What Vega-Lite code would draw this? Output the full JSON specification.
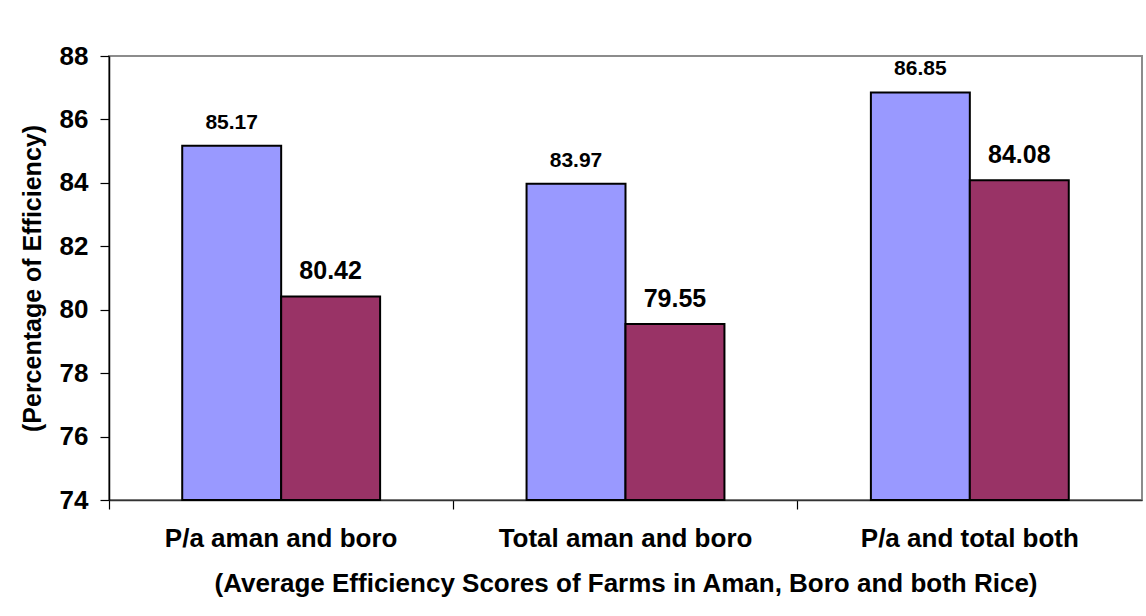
{
  "$schema": "https://vega.github.io/schema/vega-lite/v6.json",
  "autosize": {"type": "none"},
  "width": 1033,
  "height": 444,
  "padding": {"left": 109, "top": 56, "right": 4, "bottom": 116},
  "background": "white",
  "config": {
    "font": "Liberation Sans",
    "view": {"stroke": "#8c8c8c", "strokeWidth": 2},
    "axis": {"grid": false, "domainColor": "#000000", "domainWidth": 1.5, "tickColor": "#000000", "tickWidth": 1.2, "tickSize": 9,
      "labelFont": "Liberation Sans", "labelFontWeight": "bold", "labelColor": "#000000", "labelLimit": 0,
      "titleFont": "Liberation Sans", "titleFontWeight": "bold", "titleColor": "#000000"}
  },
  "data": {"values": [
    {"category": "P/a aman and boro", "series": "Series 1", "value": 85.17},
    {"category": "P/a aman and boro", "series": "Series 2", "value": 80.42},
    {"category": "Total aman and boro", "series": "Series 1", "value": 83.97},
    {"category": "Total aman and boro", "series": "Series 2", "value": 79.55},
    {"category": "P/a and total both", "series": "Series 1", "value": 86.85},
    {"category": "P/a and total both", "series": "Series 2", "value": 84.08}
  ]},
  "encoding": {
    "x": {"field": "category", "type": "nominal", "sort": null,
      "scale": {"paddingInner": 0, "paddingOuter": 0},
      "axis": {"title": "(Average Efficiency Scores of Farms in Aman, Boro and both Rice)", "labelAngle": 0, "bandPosition": 0,
        "labelFontSize": 26, "labelPadding": 16, "titleFontSize": 26, "titlePadding": 19, "domainColor": "#333333"}},
    "xOffset": {"field": "series", "type": "nominal", "scale": {"paddingInner": 0, "paddingOuter": 0.74}},
    "y": {"field": "value", "type": "quantitative",
      "scale": {"domain": [74, 88], "nice": false, "zero": false},
      "axis": {"title": "(Percentage of Efficiency)", "values": [74, 76, 78, 80, 82, 84, 86, 88],
        "labelFontSize": 26, "labelPadding": 12, "titleFontSize": 25, "titlePadding": 14}}
  },
  "layer": [
    {
      "mark": {"type": "bar", "stroke": "#000000", "strokeWidth": 2},
      "encoding": {
        "y2": {"datum": 74},
        "color": {"field": "series", "type": "nominal", "scale": {"domain": ["Series 1", "Series 2"], "range": ["#9999ff", "#993366"]}, "legend": null}
      }
    },
    {
      "transform": [{"filter": "datum.series === 'Series 1'"}],
      "mark": {"type": "text", "baseline": "alphabetic", "dy": -17, "fontSize": 21, "fontWeight": "bold", "color": "#000000", "font": "Liberation Sans"},
      "encoding": {"text": {"field": "value", "type": "quantitative", "format": ".2f"}}
    },
    {
      "transform": [{"filter": "datum.series === 'Series 2'"}],
      "mark": {"type": "text", "baseline": "alphabetic", "dy": -17, "fontSize": 25, "fontWeight": "bold", "color": "#000000", "font": "Liberation Sans"},
      "encoding": {"text": {"field": "value", "type": "quantitative", "format": ".2f"}}
    }
  ]
}
